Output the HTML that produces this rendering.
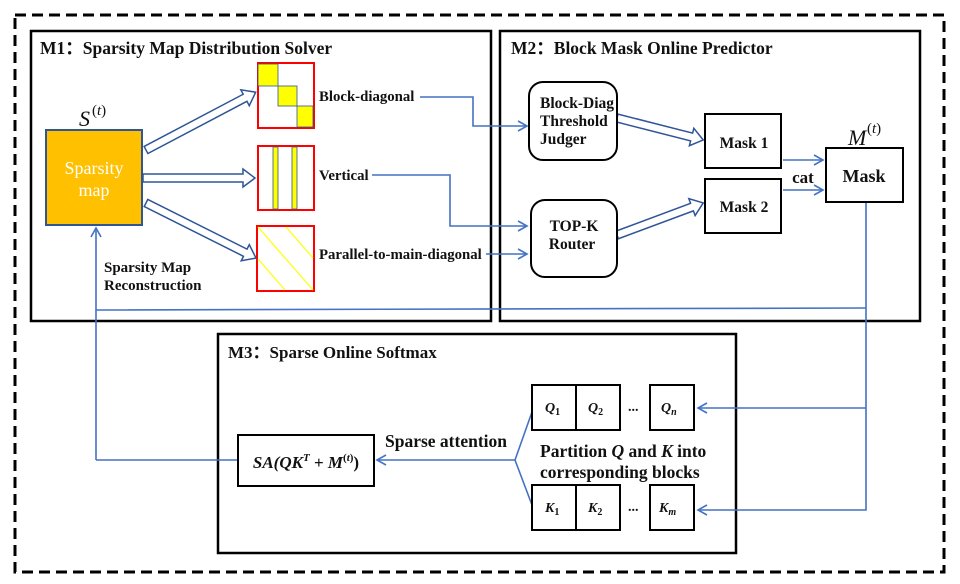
<!DOCTYPE html>
<html><head><meta charset="utf-8"><style>
html,body{margin:0;padding:0;background:#fff}
svg{display:block}
text{font-family:"Liberation Serif",serif;font-weight:bold;fill:#111}
</style></head><body>
<svg width="960" height="584" viewBox="0 0 960 584" xmlns="http://www.w3.org/2000/svg">
<defs>
<marker id="ah" markerWidth="12" markerHeight="12" refX="10" refY="6" orient="auto" markerUnits="userSpaceOnUse">
<path d="M1,1 L10,6 L1,11" fill="none" stroke="#4472C4" stroke-width="1.6"/>
</marker>
</defs>
<rect x="15" y="15" width="929" height="557" fill="none" stroke="#000" stroke-width="3" stroke-dasharray="11,6"/>
<rect x="31" y="31" width="460" height="290" fill="none" stroke="#000" stroke-width="2.5"/>
<rect x="500" y="31" width="420" height="290" fill="none" stroke="#000" stroke-width="2.5"/>
<rect x="218" y="334" width="518" height="219" fill="none" stroke="#000" stroke-width="2.5"/>

<text x="40" y="54" font-size="17.5">M1：Sparsity Map Distribution Solver</text>
<text x="511" y="54" font-size="17.5">M2：Block Mask Online Predictor</text>
<text x="228" y="358" font-size="17">M3：Sparse Online Softmax</text>

<!-- sparsity map -->
<rect x="46" y="130" width="96" height="95" fill="#FFC000" stroke="#2F5597" stroke-width="2"/>
<text x="94" y="174" font-size="18" text-anchor="middle" style="font-weight:normal;fill:#fff">Sparsity</text>
<text x="94" y="196" font-size="18" text-anchor="middle" style="font-weight:normal;fill:#fff">map</text>
<text x="79" y="126" font-size="22" style="font-weight:normal;font-style:italic">S</text>
<text x="92" y="115" font-size="15" style="font-weight:normal">(<tspan font-style="italic">t</tspan>)</text>

<!-- matrices -->
<rect x="258" y="63" width="56" height="65" fill="#fff" stroke="#f00" stroke-width="2"/>
<rect x="258" y="64" width="20" height="22" fill="#ff0" stroke="#2F5597" stroke-width="0.8"/>
<rect x="278" y="86" width="19" height="20" fill="#ff0" stroke="#2F5597" stroke-width="0.8"/>
<rect x="297" y="106" width="16" height="21" fill="#ff0" stroke="#2F5597" stroke-width="0.8"/>
<rect x="258" y="146" width="56" height="64" fill="#fff" stroke="#f00" stroke-width="2"/>
<rect x="273" y="147" width="5" height="62" fill="#ff0" stroke="#2F5597" stroke-width="0.8"/>
<rect x="292" y="147" width="5" height="62" fill="#ff0" stroke="#2F5597" stroke-width="0.8"/>
<rect x="257" y="226" width="57" height="65" fill="#fff" stroke="#f00" stroke-width="2"/>
<line x1="258" y1="227" x2="313" y2="290" stroke="#ff0" stroke-width="1.2"/>
<line x1="286" y1="227" x2="313" y2="258" stroke="#ff0" stroke-width="1.2"/>
<line x1="258" y1="259" x2="285" y2="290" stroke="#ff0" stroke-width="1.2"/>

<text x="319" y="101" font-size="14.8">Block-diagonal</text>
<text x="319" y="180" font-size="14.8">Vertical</text>
<text x="319" y="259" font-size="14.8">Parallel-to-main-diagonal</text>
<text x="104" y="272" font-size="15">Sparsity Map</text>
<text x="104" y="290" font-size="15">Reconstruction</text>

<!-- hollow arrows -->
<g fill="#fff" stroke="#2F5597" stroke-width="1.5">
<polygon transform="translate(146,150) rotate(-27.8)" points="0,-4 112,-4 112,-9 124,0 112,9 112,4 0,4"/>
<polygon transform="translate(143,178) rotate(0)" points="0,-4 100,-4 100,-9 112,0 100,9 100,4 0,4"/>
<polygon transform="translate(146,203) rotate(26.6)" points="0,-4 111,-4 111,-9 123,0 111,9 111,4 0,4"/>
<polygon transform="translate(617,118) rotate(14.3)" points="0,-4 77,-4 77,-9 89,0 77,9 77,4 0,4"/>
<polygon transform="translate(617,235) rotate(-20.4)" points="0,-4 80,-4 80,-9 92,0 80,9 80,4 0,4"/>
</g>

<!-- connectors -->
<g fill="none" stroke="#4472C4" stroke-width="1.6">
<polyline points="420,97 473,97 473,126 527,126" marker-end="url(#ah)"/>
<polyline points="372,175 450,175 450,226 527,226" marker-end="url(#ah)"/>
<polyline points="486,254 527,254" marker-end="url(#ah)"/>
<line x1="783" y1="160" x2="823" y2="160" marker-end="url(#ah)"/>
<line x1="783" y1="190" x2="823" y2="190" marker-end="url(#ah)"/>
<polyline points="866,202 866,510 698,510" marker-end="url(#ah)"/>
<line x1="866" y1="408" x2="698" y2="408" marker-end="url(#ah)"/>
<polyline points="866,308 96,310 96,228" marker-end="url(#ah)"/>
<line x1="96" y1="310" x2="96" y2="460"/>
<line x1="96" y1="460" x2="238" y2="460"/>
<line x1="515" y1="460" x2="377" y2="460" marker-end="url(#ah)"/>
<line x1="515" y1="460" x2="532" y2="412"/>
<line x1="515" y1="460" x2="532" y2="505"/>
</g>

<!-- M2 boxes -->
<g fill="#fff" stroke="#000" stroke-width="2">
<rect x="529" y="82" width="88" height="78" rx="14"/>
<rect x="531" y="200" width="86" height="77" rx="14"/>
<rect x="705" y="114" width="76" height="54"/>
<rect x="705" y="179" width="76" height="54"/>
<rect x="826" y="148" width="77" height="54"/>
</g>
<text x="540" y="108" font-size="15.5">Block-Diag</text>
<text x="540" y="126" font-size="15.5">Threshold</text>
<text x="540" y="144" font-size="15.5">Judger</text>
<text x="574" y="231" font-size="15.5" text-anchor="middle">TOP-K</text>
<text x="572" y="249" font-size="15.5" text-anchor="middle">Router</text>
<text x="744" y="148" font-size="15.5" text-anchor="middle">Mask 1</text>
<text x="744" y="212" font-size="15.5" text-anchor="middle">Mask 2</text>
<text x="864" y="182" font-size="18" text-anchor="middle">Mask</text>
<text x="803" y="183" font-size="17" text-anchor="middle">cat</text>
<text x="848" y="145" font-size="22" style="font-weight:normal;font-style:italic">M</text>
<text x="867" y="133" font-size="15" style="font-weight:normal">(<tspan font-style="italic">t</tspan>)</text>

<!-- M3 -->
<g fill="#fff" stroke="#000" stroke-width="2">
<rect x="238" y="435" width="136" height="51"/>
<rect x="532" y="385" width="44" height="45"/>
<rect x="576" y="385" width="44" height="45"/>
<rect x="650" y="385" width="44" height="45"/>
<rect x="532" y="485" width="44" height="45"/>
<rect x="576" y="485" width="44" height="45"/>
<rect x="650" y="485" width="44" height="45"/>
</g>
<text x="306" y="468" font-size="17" text-anchor="middle" font-style="italic">SA(QK<tspan font-size="11" dy="-7">T</tspan><tspan dy="7" font-style="normal"> + </tspan>M<tspan font-size="11" dy="-7" font-style="normal">(</tspan><tspan font-size="11">t</tspan><tspan font-size="11" font-style="normal">)</tspan><tspan dy="7" font-style="normal">)</tspan></text>
<text x="385" y="447" font-size="17.5">Sparse attention</text>
<text x="540" y="457" font-size="17.5">Partition <tspan font-style="italic">Q</tspan> and <tspan font-style="italic">K</tspan> into</text>
<text x="540" y="478" font-size="17.5">corresponding blocks</text>
<g font-size="14" font-style="italic">
<text x="545" y="412">Q<tspan font-size="10" font-style="normal" dy="3">1</tspan></text>
<text x="588" y="412">Q<tspan font-size="10" font-style="normal" dy="3">2</tspan></text>
<text x="661" y="412">Q<tspan font-size="10" dy="3">n</tspan></text>
<text x="545" y="512">K<tspan font-size="10" font-style="normal" dy="3">1</tspan></text>
<text x="588" y="512">K<tspan font-size="10" font-style="normal" dy="3">2</tspan></text>
<text x="659" y="512">K<tspan font-size="10" dy="3">m</tspan></text>
</g>
<text x="628" y="411" font-size="14">...</text>
<text x="628" y="511" font-size="14">...</text>
</svg>
</body></html>
